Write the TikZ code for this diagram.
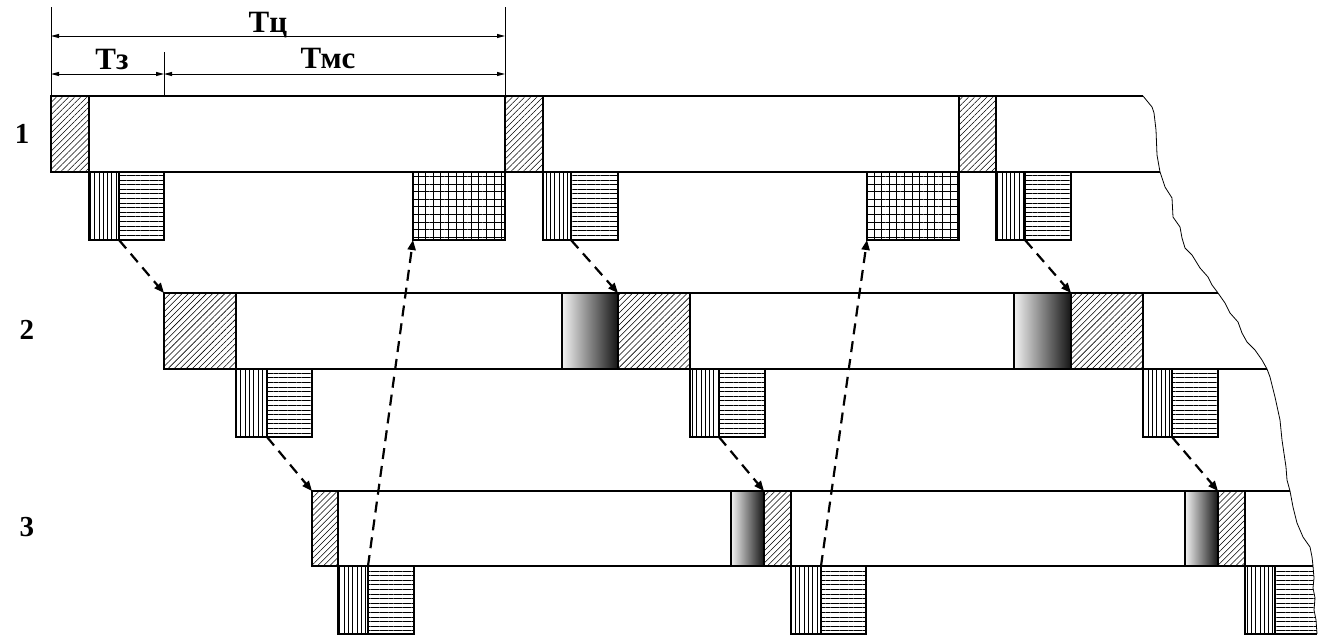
\documentclass[tikz,border=0pt]{standalone}
\usepackage{fontspec}
\setmainfont{Liberation Serif}
\usetikzlibrary{patterns.meta,arrows.meta}
\tikzset{
  blk/.style={draw, line width=2pt, inner sep=0pt, outer sep=0pt, anchor=north west},
  diagbox/.style={blk, pattern={Lines[angle=45,distance=4.3pt,line width=0.55pt]}},
  vertbox/.style={blk, minimum height=68pt, pattern={Lines[angle=90,distance=4.3pt,line width=0.65pt]}},
  horzbox/.style={blk, minimum height=68pt, pattern={Lines[angle=0,distance=4.6pt,line width=0.65pt]}},
  meshbox/.style={blk, minimum height=68pt, pattern={Hatch[angle=0,distance=7.6pt,line width=0.7pt]}},
  gradbox/.style={blk, left color=black!5, right color=black!92},
  bandline/.style={line width=2pt},
  dasharrow/.style={line width=2.2pt, dash pattern=on 11pt off 7pt, -{Triangle[length=10pt,width=8pt]}},
  dimline/.style={line width=1pt, {Triangle[length=8pt,width=4pt]}-{Triangle[length=8pt,width=4pt]}},
  extline/.style={line width=0.9pt},
  lbl/.style={font=\bfseries\fontsize{31}{31}\selectfont, inner sep=0pt, anchor=base},
  numlbl/.style={font=\bfseries\fontsize{29}{29}\selectfont, inner sep=0pt},
  cutline/.style={line width=0.8pt}
}
\begin{document}
\begin{tikzpicture}[x=1pt,y=-1pt]
\useasboundingbox (0,0) rectangle (1320,640);

% ---- band lines ----
\draw[bandline] (51,96) -- (1143,96);
\draw[bandline] (51,172) -- (1160,172);
\draw[bandline] (164,293) -- (1218,293);
\draw[bandline] (164,369) -- (1267,369);
\draw[bandline] (312,491) -- (1290,491);
\draw[bandline] (312,566) -- (1313,566);

% ---- row 1 ----
\node[diagbox, minimum width=38pt, minimum height=76pt] (h11) at (51,96) {};
\node[diagbox, minimum width=38pt, minimum height=76pt] (h12) at (505,96) {};
\node[diagbox, minimum width=37pt, minimum height=76pt] (h13) at (959,96) {};
\node[vertbox, minimum width=30pt] (v11) at (89,172) {};
\node[horzbox, minimum width=45pt] (s11) at (119,172) {};
\node[meshbox, minimum width=92pt] (g11) at (413,172) {};
\node[vertbox, minimum width=28pt] (v12) at (543,172) {};
\node[horzbox, minimum width=47pt] (s12) at (571,172) {};
\node[meshbox, minimum width=92pt] (g12) at (867,172) {};
\node[vertbox, minimum width=29pt] (v13) at (996,172) {};
\node[horzbox, minimum width=46pt] (s13) at (1025,172) {};

% ---- row 2 ----
\node[diagbox, minimum width=72pt, minimum height=76pt] (h21) at (164,293) {};
\node[gradbox, minimum width=56pt, minimum height=76pt] (c21) at (562,293) {};
\node[diagbox, minimum width=72pt, minimum height=76pt] (h22) at (618,293) {};
\node[gradbox, minimum width=57pt, minimum height=76pt] (c22) at (1014,293) {};
\node[diagbox, minimum width=72pt, minimum height=76pt] (h23) at (1071,293) {};
\node[vertbox, minimum width=31pt] (v21) at (236,369) {};
\node[horzbox, minimum width=45pt] (s21) at (267,369) {};
\node[vertbox, minimum width=29pt] (v22) at (690,369) {};
\node[horzbox, minimum width=46pt] (s22) at (719,369) {};
\node[vertbox, minimum width=29pt] (v23) at (1143,369) {};
\node[horzbox, minimum width=46pt] (s23) at (1172,369) {};

% ---- row 3 ----
\node[diagbox, minimum width=26pt, minimum height=75pt] (h31) at (312,491) {};
\node[gradbox, minimum width=33pt, minimum height=75pt] (c31) at (731,491) {};
\node[diagbox, minimum width=27pt, minimum height=75pt] (h32) at (764,491) {};
\node[gradbox, minimum width=33pt, minimum height=75pt] (c32) at (1185,491) {};
\node[diagbox, minimum width=27pt, minimum height=75pt] (h33) at (1218,491) {};
\node[vertbox, minimum width=30pt] (v31) at (338,566) {};
\node[horzbox, minimum width=46pt] (s31) at (368,566) {};
\node[vertbox, minimum width=30pt] (v32) at (791,566) {};
\node[horzbox, minimum width=45pt] (s32) at (821,566) {};
\node[vertbox, minimum width=30pt] (v33) at (1245,566) {};
% partial block cut by the break line
\path[pattern={Lines[angle=0,distance=4.6pt,line width=0.65pt]}]
  (1275,566) -- (1313,566) -- (1314,578) -- (1313,588) -- (1315,598) -- (1314,610)
  -- (1316,620) -- (1317,634) -- (1275,634) -- cycle;
\draw[line width=2pt] (1275,634) -- (1317,634);

% ---- break line ----
\draw[cutline] (1143,96) -- (1152,107) -- (1154,113) -- (1156,130) -- (1157,155)
  -- (1160,172) -- (1165,187) -- (1172,198) -- (1173,217) -- (1180,227) -- (1182,238)
  -- (1185,248) -- (1192,255) -- (1200,268) -- (1208,277) -- (1212,285) -- (1218,293)
  -- (1225,303) -- (1230,313) -- (1238,322) -- (1242,333) -- (1247,342) -- (1255,350)
  -- (1262,360) -- (1267,369) -- (1270,377) -- (1275,397) -- (1280,420) -- (1282,440)
  -- (1286,467) -- (1287,480) -- (1290,491) -- (1293,507) -- (1297,523) -- (1303,537)
  -- (1310,547) -- (1312,557) -- (1313,566) -- (1314,578) -- (1313,588) -- (1315,598)
  -- (1314,610) -- (1316,620) -- (1317,634);

% ---- dashed arrows ----
\draw[dasharrow] (v11.south east) -- (h21.north west);
\draw[dasharrow] (v12.south east) -- (h22.north west);
\draw[dasharrow] (v13.south east) -- (h23.north west);
\draw[dasharrow] (v21.south east) -- (h31.north west);
\draw[dasharrow] (v22.south east) -- (h32.north west);
\draw[dasharrow] (v23.south east) -- (h33.north west);
\draw[dasharrow] (v31.north east) -- (g11.south west);
\draw[dasharrow] (v32.north east) -- (g12.south west);

% ---- dimensions ----
\coordinate (e0t) at (51,7);
\coordinate (e1t) at (505,7);
\coordinate (e2t) at (164,52);
\draw[extline] (e0t) -- (h11.north west);
\draw[extline] (e1t) -- (h12.north west);
\draw[extline] (e2t) -- (164,96);
\coordinate (dA0) at (51,36);
\coordinate (dA1) at (505,36);
\coordinate (dB0) at (51,74);
\coordinate (dB1) at (164,74);
\coordinate (dB2) at (505,74);
\draw[dimline] (dA0) -- (dA1);
\draw[dimline] (dB0) -- (dB1);
\draw[dimline] (dB1) -- (dB2);
\node[lbl] (tc) at (268,32) {Тц};
\node[lbl] (tz) at (112,69) {Тз};
\node[lbl] (tms) at (328,68.5) {Тмс};

% ---- row numbers ----
\node[numlbl] (n1) at (22,134) {1};
\node[numlbl] (n2) at (27,330) {2};
\node[numlbl] (n3) at (27,527) {3};
\end{tikzpicture}
\end{document}
